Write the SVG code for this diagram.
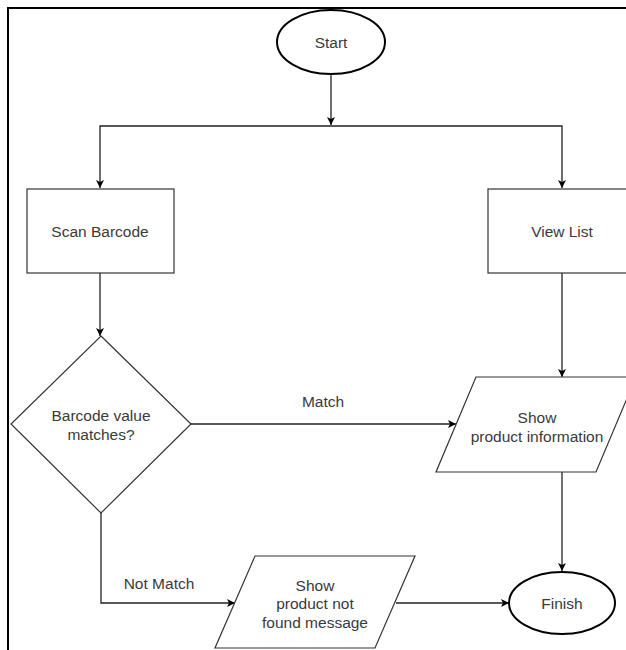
<svg xmlns="http://www.w3.org/2000/svg" width="626" height="650" viewBox="0 0 626 650">
<style>
.t{font-family:"Liberation Sans",Arial,sans-serif;font-size:15.5px;fill:#3a3a3a;text-anchor:middle;dominant-baseline:central}
.term{fill:#fff;stroke:#000;stroke-width:2}
.box{fill:#fff;stroke:#333;stroke-width:1.2}
.c{fill:none;stroke:#222;stroke-width:1.3}
</style>
<defs>
<marker id="ah" markerWidth="10" markerHeight="10" refX="9" refY="5" orient="auto" markerUnits="userSpaceOnUse">
<path d="M1,1 L9,5 L1,9 L3,5 Z" fill="#000"/>
</marker>
</defs>
<rect width="626" height="650" fill="#fff"/>
<path d="M8,650 V8 H626" fill="none" stroke="#000" stroke-width="2"/>
<g id="connectors">
<path class="c" d="M331,74 V125" marker-end="url(#ah)"/>
<path class="c" d="M331,126 H100 V188" marker-end="url(#ah)"/>
<path class="c" d="M331,126 H562 V188" marker-end="url(#ah)"/>
<path class="c" d="M100,273 V336" marker-end="url(#ah)"/>
<path class="c" d="M562,273 V377" marker-end="url(#ah)"/>
<path class="c" d="M191,424 H456" marker-end="url(#ah)"/>
<text class="t" x="323" y="401">Match</text>
<path class="c" d="M101,513 V603 H235" marker-end="url(#ah)"/>
<text class="t" x="159" y="583">Not Match</text>
<path class="c" d="M562,472 V571" marker-end="url(#ah)"/>
<path class="c" d="M396,603 H509" marker-end="url(#ah)"/>
</g>
<g id="start">
<ellipse class="term" cx="331" cy="42" rx="54" ry="32"/>
<text class="t" x="331" y="42">Start</text>
</g>
<g id="scan">
<rect class="box" x="27" y="189" width="147" height="84"/>
<text class="t" x="100" y="231">Scan Barcode</text>
</g>
<g id="viewlist">
<rect class="box" x="488" y="189" width="149" height="84"/>
<text class="t" x="562" y="231">View List</text>
</g>
<g id="decision">
<path class="box" d="M101,336 L191,424 L101,513 L11,424 Z"/>
<text class="t" x="101" y="415">Barcode value</text>
<text class="t" x="101" y="434">matches?</text>
</g>
<g id="showinfo">
<path class="box" d="M476,377 H636 L596,472 H436 Z"/>
<text class="t" x="537" y="417">Show</text>
<text class="t" x="537" y="436">product information</text>
</g>
<g id="notfound">
<path class="box" d="M255,556 H415 L375,648 H215 Z"/>
<text class="t" x="315" y="585">Show</text>
<text class="t" x="315" y="603">product not</text>
<text class="t" x="315" y="622">found message</text>
</g>
<g id="finish">
<ellipse class="term" cx="562" cy="603" rx="53" ry="31"/>
<text class="t" x="562" y="603">Finish</text>
</g>
</svg>
